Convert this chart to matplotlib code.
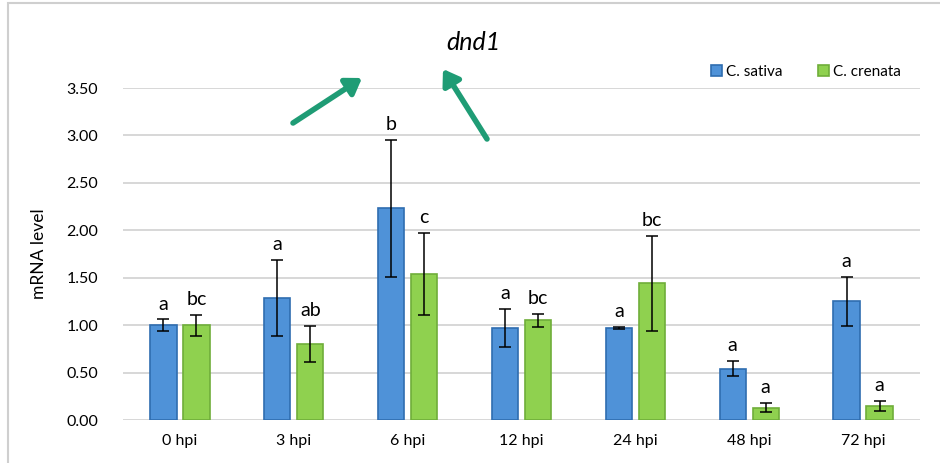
import matplotlib
matplotlib.use("Agg")
import matplotlib.pyplot as plt
import numpy as np
from matplotlib.patches import Rectangle

categories = ["0 hpi", "3 hpi", "6 hpi", "12 hpi", "24 hpi", "48 hpi", "72 hpi"]
sativa = [1.00, 1.29, 2.23, 0.97, 0.97, 0.54, 1.25]
sativa_err = [0.06, 0.40, 0.72, 0.20, 0.01, 0.08, 0.26]
crenata = [1.00, 0.80, 1.54, 1.05, 1.44, 0.13, 0.15]
crenata_err = [0.11, 0.19, 0.43, 0.07, 0.50, 0.045, 0.055]
sativa_letters = ["a", "a", "b", "a", "a", "a", "a"]
crenata_letters = ["bc", "ab", "c", "bc", "bc", "a", "a"]
yticks = [0.0, 0.5, 1.0, 1.5, 2.0, 2.5, 3.0, 3.5]

plt.rcParams['font.family'] = ['Lato', 'DejaVu Sans']

W, H = 940, 463
fig = plt.figure(figsize=(W / 100, H / 100), dpi=100)
ax = fig.add_axes([123 / W, 1 - 420 / H, (920 - 123) / W, (420 - 88) / H])

x = np.arange(len(categories))
bw = 0.23
off = 0.145
blue_fc, blue_ec = "#4f92d8", "#2f6db0"
green_fc, green_ec = "#8fd14f", "#6fae3a"

ax.bar(x - off, sativa, bw, color=blue_fc, edgecolor=blue_ec, linewidth=1.2, zorder=3, label="C. sativa")
ax.bar(x + off, crenata, bw, color=green_fc, edgecolor=green_ec, linewidth=1.2, zorder=3, label="C. crenata")
ax.errorbar(x - off, sativa, yerr=sativa_err, fmt="none", ecolor="black", elinewidth=1.1, capsize=4, capthick=1.1, zorder=4)
ax.errorbar(x + off, crenata, yerr=crenata_err, fmt="none", ecolor="black", elinewidth=1.1, capsize=4, capthick=1.1, zorder=4)

for i in range(len(categories)):
    ax.annotate(sativa_letters[i], (x[i] - off, sativa[i] + sativa_err[i]), xytext=(0, 5),
                textcoords="offset points", ha="center", va="bottom", fontsize=14)
    ax.annotate(crenata_letters[i], (x[i] + off, crenata[i] + crenata_err[i]), xytext=(0, 5),
                textcoords="offset points", ha="center", va="bottom", fontsize=14)

ax.set_xlim(-0.5, len(categories) - 0.5)
ax.set_ylim(0, 3.5)
ax.set_yticks(yticks)
ax.set_yticklabels([f"{v:.2f}" for v in yticks], fontsize=11.5)
ax.set_xticks(x)
ax.set_xticklabels(categories, fontsize=11.5)
ax.tick_params(axis="y", length=0, pad=18)
ax.tick_params(axis="x", length=0, pad=10)
ax.yaxis.grid(True, color="#d4d4d4", linewidth=1.3, zorder=0)
for s in ax.spines.values():
    s.set_visible(False)
ax.set_ylabel("mRNA level", fontsize=12.5, labelpad=14)

fig.text(473 / W, 1 - 42 / H, "dnd1", fontsize=18, style="italic", ha="center", va="center")

leg = ax.legend(loc="upper right", bbox_to_anchor=(915 / W, 1 - 51 / H), bbox_transform=fig.transFigure,
                ncol=2, frameon=False, fontsize=11, handlelength=0.7, handleheight=0.7,
                columnspacing=2.3, handletextpad=0.3)

arrow_color = "#1f9c75"
for tail, head in [((293, 123), (362, 78)), ((487, 139), (443, 69))]:
    fig.add_artist(matplotlib.patches.FancyArrowPatch(
        (tail[0] / W, 1 - tail[1] / H), (head[0] / W, 1 - head[1] / H),
        transform=fig.transFigure, arrowstyle="-|>,head_length=9,head_width=6",
        color=arrow_color, linewidth=4, shrinkA=0, shrinkB=0))

fig.add_artist(Rectangle((8 / W, -0.1), 1.1, 1 - 3 / H + 0.1, transform=fig.transFigure,
                         fill=False, edgecolor="#cfcfcf", linewidth=1.5))

fig.savefig("out.png", dpi=100)
